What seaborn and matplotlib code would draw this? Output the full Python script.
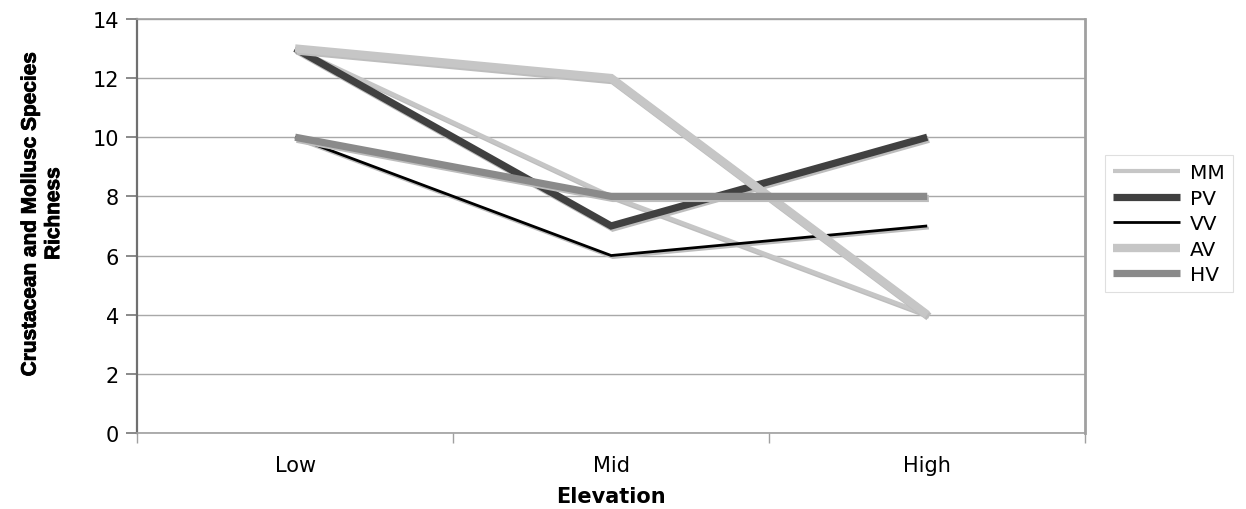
"""
Crustacean and mollusc species richness by elevation
"""

import matplotlib
matplotlib.use("Agg")
import matplotlib.pyplot as plt
import matplotlib.patheffects as pe
from matplotlib.ticker import FixedLocator
import seaborn as sns
import pandas as pd

# ─────────────────────────────────────────────
# Data
# ─────────────────────────────────────────────
elevation = ["Low", "Mid", "High"]
sites     = ["MM", "PV", "VV", "AV", "HV"]

mm = [13, 8, 4]
pv = [13, 7, 10]
vv = [10, 6, 7]
av = [13, 12, 4]
hv = [10, 8, 8]

richness = {"MM": mm, "PV": pv, "VV": vv, "AV": av, "HV": hv}

colors = {"MM": "#c6c6c6", "PV": "#404040", "VV": "#000000",
          "AV": "#c6c6c6", "HV": "#8a8a8a"}
widths = {"MM": 3.0, "PV": 5.2, "VV": 2.0, "AV": 6.0, "HV": 5.2}

rows = [(s, e, v) for s in sites for e, v in zip(elevation, richness[s])]
df = pd.DataFrame(rows, columns=["Site", "Elevation", "Richness"])

# ─────────────────────────────────────────────
# Plot
# ─────────────────────────────────────────────
sns.set_style("white")
plt.rcParams["font.family"] = ["DejaVu Sans"]
plt.rcParams["text.color"] = "black"
plt.rcParams["axes.labelcolor"] = "black"
plt.rcParams["xtick.color"] = "black"
plt.rcParams["ytick.color"] = "black"
plt.rcParams["ytick.left"] = True
plt.rcParams["xtick.bottom"] = True
plt.rcParams["ytick.major.size"] = 8
plt.rcParams["ytick.direction"] = "out"

fig, ax = plt.subplots(figsize=(12.46, 5.10), dpi=100)
fig.subplots_adjust(left=0.11, right=0.871, top=0.961, bottom=0.149)

for s in sites:
    sns.lineplot(data=df[df.Site == s], x="Elevation", y="Richness",
                 color=colors[s], linewidth=widths[s], label=s, ax=ax,
                 sort=False, solid_joinstyle="miter", solid_capstyle="butt")

for line in ax.get_lines():
    line.set_path_effects([pe.SimpleLineShadow(offset=(1.2, -1.5), shadow_color="#bdbdbd", alpha=1.0),
                           pe.Normal()])

ax.set_xlim(-0.5, 2.5)
ax.set_ylim(0, 14)
ax.set_yticks(range(0, 15, 2))
ax.yaxis.grid(True, color="#a8a8a8", linewidth=1.0)
ax.set_axisbelow(True)

ax.xaxis.set_minor_locator(FixedLocator([-0.5, 0.5, 1.5, 2.5]))
ax.tick_params(axis="x", which="major", bottom=False, length=0, labelsize=15, pad=16)
ax.tick_params(axis="x", which="minor", bottom=True, length=7, color="#a0a0a0", width=1)
ax.yaxis.set_ticks_position("left")
ax.tick_params(axis="y", which="major", left=True, direction="out", length=8,
               color="#808080", width=1.3, labelsize=15, pad=5)

for side in ["top", "right", "bottom"]:
    ax.spines[side].set_color("#a0a0a0")
    ax.spines[side].set_linewidth(1.2)
ax.spines["left"].set_color("#707070")
ax.spines["left"].set_linewidth(1.6)
ax.spines["right"].set_linewidth(2.0)

ax.set_xlabel("Elevation", fontsize=15, fontweight="bold", labelpad=8)
ax.set_ylabel("Crustacean and Mollusc Species\nRichness", fontsize=15,
              fontweight="bold", family=["Liberation Sans", "DejaVu Sans"],
              linespacing=1.3,
              path_effects=[pe.withStroke(linewidth=0.6, foreground="black")])
ax.yaxis.set_label_coords(-0.078, 0.53)

leg = ax.legend(loc="center left", bbox_to_anchor=(1.021, 0.505), fontsize=14.5,
                frameon=True, fancybox=False, edgecolor="#d8d8d8",
                handlelength=3.3, handletextpad=0.5, labelspacing=0.32,
                borderpad=0.4, borderaxespad=0)
leg.get_frame().set_linewidth(0.8)
for h in leg.get_lines():
    h.set_path_effects([])

plt.savefig("out.png", dpi=100)
